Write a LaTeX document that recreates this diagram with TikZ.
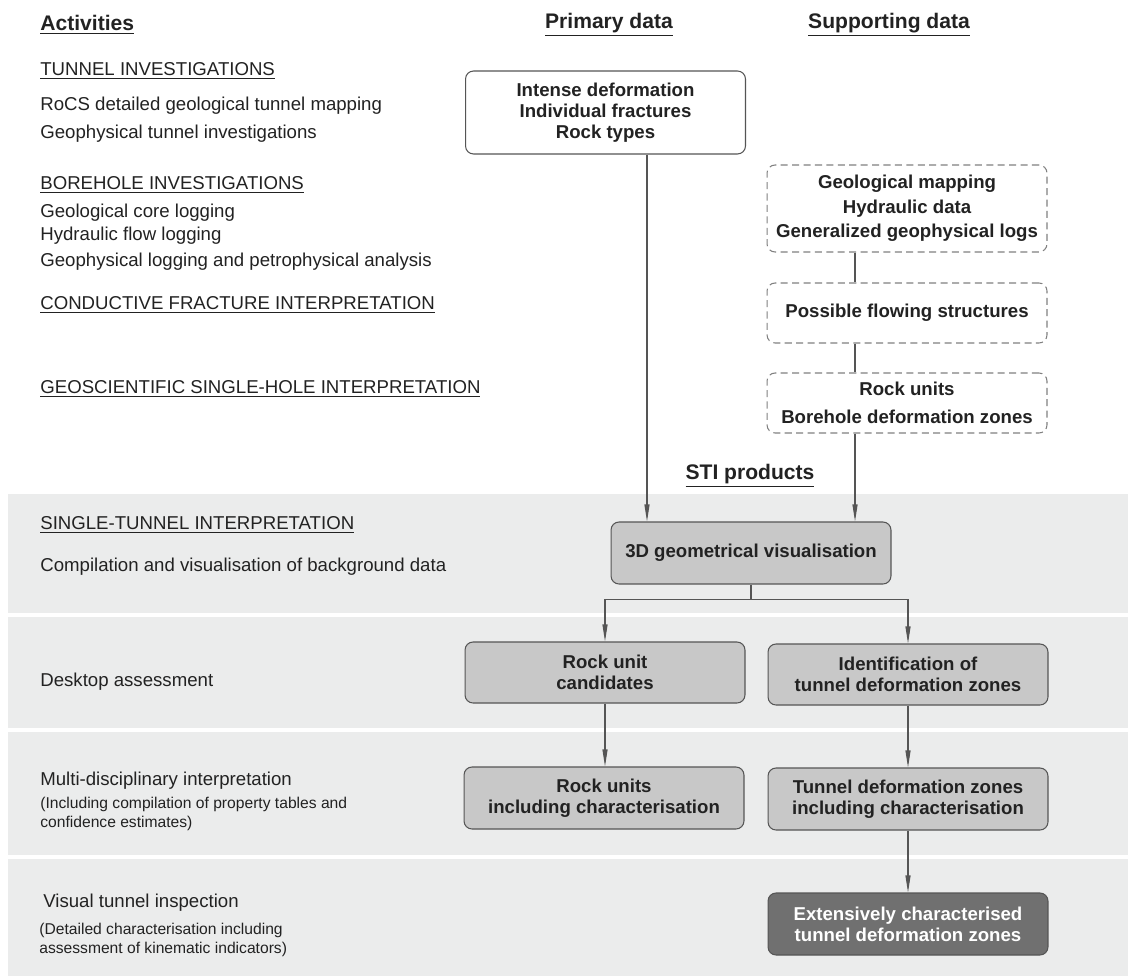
\documentclass[tikz,border=0pt]{standalone}
\usepackage{fontspec}
\setmainfont{Liberation Sans}
\usepackage{tikz}
\usetikzlibrary{arrows.meta}
\definecolor{lineGray}{HTML}{555555}
\definecolor{bandGray}{HTML}{EBECEC}
\definecolor{boxGray}{HTML}{C8C8C8}
\definecolor{darkBox}{HTML}{707070}
\definecolor{textDark}{HTML}{222222}

\begin{document}
\begin{tikzpicture}[x=0.02cm,y=-0.02cm,
  every node/.style={text=textDark},
  head/.style={font=\bfseries\fontsize{12}{14}\selectfont},
  act/.style={anchor=west,inner sep=0pt,font=\fontsize{10.6}{12}\selectfont},
  note/.style={anchor=west,inner sep=0pt,align=left,font=\fontsize{8.9}{10.8}\selectfont},
  box/.style={draw=lineGray,line width=0.6pt,rounded corners=1.6mm,minimum width=5.6cm,align=center,font=\bfseries\fontsize{10.6}{12}\selectfont},
  dbox/.style={box,dash pattern=on 4pt off 2.5pt,draw=lineGray!75},
  prod/.style={box,fill=boxGray},
  conn/.style={draw=lineGray,line width=0.6pt},
  arr/.style={conn,-{Triangle[length=3.4mm,width=1mm]}}]
\useasboundingbox (0,0) rectangle (1128,976);
\fill[white] (0,0) rectangle (1128,976);
\foreach \ya/\yb in {494/613,617/728,732/855,859/976}
  \fill[bandGray] (8,\ya) rectangle (1128,\yb);

\node[head,anchor=west,inner sep=0pt] (acthead) at (40,25) {\underline{Activities}};
\node[head] (primhead) at (609,25) {\underline{Primary data}};
\node[head] (suphead) at (889,25) {\underline{Supporting data}};
\node[head] (prodhead) at (750,476) {\underline{STI products}};

\node[act] (tunnel) at (40,71) {\underline{TUNNEL INVESTIGATIONS}};
\node[act] (rocs) at (40,106) {RoCS detailed geological tunnel mapping};
\node[act] (geoph) at (40,134) {Geophysical tunnel investigations};
\node[act] (bore) at (40,185) {\underline{BOREHOLE INVESTIGATIONS}};
\node[act] (core) at (40,213) {Geological core logging};
\node[act] (hydr) at (40,236) {Hydraulic flow logging};
\node[act] (petro) at (40,262) {Geophysical logging and petrophysical analysis};
\node[act] (cond) at (40,305) {\underline{CONDUCTIVE FRACTURE INTERPRETATION}};
\node[act] (single) at (40,389) {\underline{GEOSCIENTIFIC SINGLE-HOLE INTERPRETATION}};
\node[act] (stint) at (40,525) {\underline{SINGLE-TUNNEL INTERPRETATION}};
\node[act] (compil) at (40,567) {Compilation and visualisation of background data};
\node[act] (desk) at (40,682) {Desktop assessment};
\node[act] (multi) at (40,781) {Multi-disciplinary interpretation};
\node[note] (multinote) at (40,814) {(Including compilation of property tables and\\confidence estimates)};
\node[act] (visual) at (43,903) {Visual tunnel inspection};
\node[note] (visnote) at (39,940) {(Detailed characterisation including\\assessment of kinematic indicators)};

\node[box,fill=white,minimum height=1.66cm] (prim) at (605.5,112.5) {Intense deformation\\Individual fractures\\Rock types};
\node[dbox,minimum height=1.74cm] (geomap) at (907,208.5) {Geological mapping\\[2pt]Hydraulic data\\[2pt]Generalized geophysical logs};
\node[dbox,minimum height=1.2cm] (flow) at (907,313) {Possible flowing structures};
\node[dbox,minimum height=1.2cm] (bhunits) at (907,403) {Rock units\\[4pt]Borehole deformation zones};
\node[prod,minimum height=1.24cm] (vis) at (751,553) {3D geometrical visualisation};
\node[prod,minimum height=1.22cm] (cand) at (605,672.5) {Rock unit\\candidates};
\node[prod,minimum height=1.22cm] (ident) at (908,674.5) {Identification of\\tunnel deformation zones};
\node[prod,minimum height=1.24cm] (rockunits) at (604,798) {Rock units\\including characterisation};
\node[prod,minimum height=1.24cm] (tdz) at (908,799) {Tunnel deformation zones\\including characterisation};
\node[prod,fill=darkBox,text=white,minimum height=1.24cm] (ext) at (908,924) {Extensively characterised\\tunnel deformation zones};

\draw[conn] ([xshift=-1.04cm]geomap.south) -- ([xshift=-1.04cm]flow.north);
\draw[conn] ([xshift=-1.04cm]flow.south) -- ([xshift=-1.04cm]bhunits.north);
\coordinate (primfoot) at ([xshift=0.83cm]prim.south);
\coordinate (unitfoot) at ([xshift=-1.04cm]bhunits.south);
\draw[arr] (primfoot) -- (primfoot |- vis.north);
\draw[arr] (unitfoot) -- (unitfoot |- vis.north);
\coordinate (split) at ([yshift=-0.3cm]vis.south);
\draw[conn] (vis.south) -- (split);
\draw[arr] (split) -| (cand.north);
\draw[arr] (split) -| (ident.north);
\draw[arr] (cand.south) -- (cand.south |- rockunits.north);
\draw[arr] (ident.south) -- (tdz.north);
\draw[arr] (tdz.south) -- (ext.north);
\end{tikzpicture}
\end{document}
